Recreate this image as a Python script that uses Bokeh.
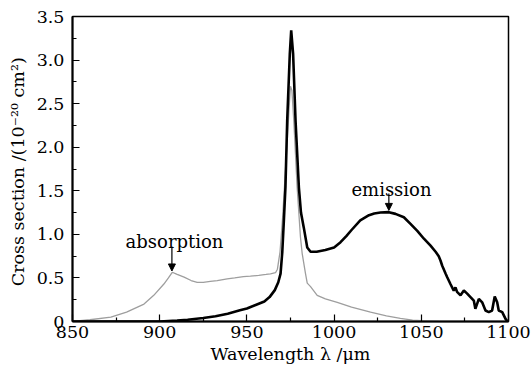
from bokeh.plotting import figure
from bokeh.models import FixedTicker, Arrow, NormalHead, Label, Range1d
from bokeh.embed import file_html
from bokeh.resources import INLINE

# Emission cross section (black)
em_wl = [850, 870, 890, 900, 910, 916, 925, 932, 939, 946, 950, 955, 960, 963, 966,
         968, 969.3, 970.3, 971.2, 972.1, 973.1, 974.6, 975.4, 976.5, 977.9, 979.8,
         981, 982.6, 984.6, 986.5, 990, 995, 1000, 1003.7, 1007, 1010, 1015, 1020,
         1023, 1026.6, 1031.4, 1035.2, 1040, 1043.8, 1047.7, 1051.5, 1055.3, 1058.2,
         1060, 1061, 1062, 1063.9, 1064.8, 1066.7, 1068.6, 1069.6, 1070.5, 1072.5,
         1074.4, 1076.3, 1078.2, 1080.1, 1081, 1083, 1084.9, 1086.8, 1088.7, 1090.6,
         1092.1, 1093.5, 1094.4, 1096.4, 1098.3, 1099.5]
em_cs = [0, 0, 0, 0.0, 0.01, 0.02, 0.04, 0.06, 0.09, 0.13, 0.15, 0.19, 0.23, 0.28, 0.36,
         0.45, 0.55, 0.8, 1.16, 1.54, 2.30, 3.07, 3.34, 3.07, 2.30, 1.54,
         1.25, 1.08, 0.85, 0.80, 0.80, 0.82, 0.85, 0.91, 0.98, 1.05, 1.16, 1.22,
         1.24, 1.25, 1.255, 1.235, 1.196, 1.12, 1.04, 0.95, 0.87, 0.80,
         0.75, 0.70, 0.64, 0.55, 0.51, 0.43, 0.355, 0.39, 0.34, 0.30,
         0.355, 0.32, 0.28, 0.24, 0.145, 0.26, 0.22, 0.126, 0.107, 0.126,
         0.287, 0.22, 0.126, 0.107, 0.03, 0.0]

# Absorption cross section (gray)
ab_wl = [850, 860, 872, 881, 891, 896.6, 902.4, 905, 907.2, 910, 914, 918, 921.5, 925,
         929, 933, 938.7, 943, 948, 952, 956.8, 961, 963.5, 966.4, 967.5, 969, 970.5,
         972, 973.5, 974.5, 975, 975.8, 976.9, 978.8, 980.7, 981.7, 983.6, 984.6,
         986.5, 990.3, 995, 1001.8, 1010, 1020.9, 1030, 1038, 1045, 1055, 1060]
ab_cs = [0.0, 0.02, 0.05, 0.107, 0.2, 0.3, 0.43, 0.5, 0.565, 0.54, 0.51, 0.47, 0.45, 0.45,
         0.46, 0.47, 0.49, 0.5, 0.515, 0.52, 0.53, 0.54, 0.547, 0.56, 0.6, 0.8, 1.2,
         1.7, 2.2, 2.55, 2.7, 2.65, 2.3, 1.54, 0.97, 0.78, 0.55, 0.44,
         0.40, 0.30, 0.26, 0.22, 0.165, 0.107, 0.065, 0.035, 0.015, 0.005, 0.0]

x_ticks = [850, 900, 950, 1000, 1050, 1100]
x_minor = [875, 925, 975, 1025, 1075]
y_ticks = [0, 0.5, 1.0, 1.5, 2.0, 2.5, 3.0, 3.5]
y_minor = [0.25, 0.75, 1.25, 1.75, 2.25, 2.75, 3.25]
y_labels = {0: "0", 0.5: "0.5", 1.0: "1.0", 1.5: "1.5", 2.0: "2.0", 2.5: "2.5",
            3.0: "3.0", 3.5: "3.5"}

FONT = "DejaVu Serif"

p = figure(width=531, height=371, output_backend="svg", toolbar_location=None,
           x_range=Range1d(850, 1100), y_range=Range1d(0, 3.5),
           min_border_left=72, min_border_right=23, min_border_top=16,
           min_border_bottom=50)
p.background_fill_color = "white"
p.border_fill_color = "white"
p.xgrid.visible = False
p.ygrid.visible = False
p.outline_line_color = "black"
p.outline_line_width = 1.5
p.outline_line_alpha = 1.0

p.line(ab_wl, ab_cs, line_color="#9e9e9e", line_width=1.3)
p.line(em_wl, em_cs, line_color="black", line_width=2.6)

for ax in (p.xaxis[0], p.yaxis[0]):
    ax.major_tick_in = 7
    ax.major_tick_out = 0
    ax.minor_tick_in = 4
    ax.minor_tick_out = 0
    ax.axis_line_width = 2
    ax.major_tick_line_width = 1.2
    ax.minor_tick_line_width = 1.2
    ax.major_label_text_font = FONT
    ax.major_label_text_font_size = "17.5px"
    ax.major_label_text_color = "black"
    ax.axis_label_text_font = FONT
    ax.axis_label_text_font_size = "17.5px"
    ax.axis_label_text_font_style = "normal"
    ax.axis_label_text_color = "black"

p.xaxis.ticker = FixedTicker(ticks=x_ticks, minor_ticks=x_minor)
p.yaxis.ticker = FixedTicker(ticks=y_ticks, minor_ticks=y_minor)
p.yaxis.major_label_overrides = y_labels
p.xaxis.major_label_standoff = 4
p.yaxis.major_label_standoff = 8
p.xaxis.axis_label = "Wavelength \u03bb /\u03bcm"
p.yaxis.axis_label = "Cross section  /(10\u207b\u00b2\u2070 cm\u00b2)"
p.xaxis.axis_label_standoff = 3
p.yaxis.axis_label_standoff = 6

p.add_layout(Label(x=908.5, y=0.923, text="absorption", text_align="center",
                   text_baseline="alphabetic", text_font=FONT, text_font_size="18px",
                   text_color="black"))
p.add_layout(Label(x=1032.9, y=1.52, text="emission", text_align="center",
                   text_baseline="alphabetic", text_font=FONT, text_font_size="18px",
                   text_color="black"))
p.add_layout(Arrow(end=NormalHead(size=7, fill_color="black", line_color="black"),
                   x_start=907, y_start=0.86, x_end=907, y_end=0.58,
                   line_color="black", line_width=1.2))
p.add_layout(Arrow(end=NormalHead(size=7, fill_color="black", line_color="black"),
                   x_start=1031.4, y_start=1.47, x_end=1031.4, y_end=1.275,
                   line_color="black", line_width=1.2))

open("out.html", "w").write(file_html(p, INLINE))
